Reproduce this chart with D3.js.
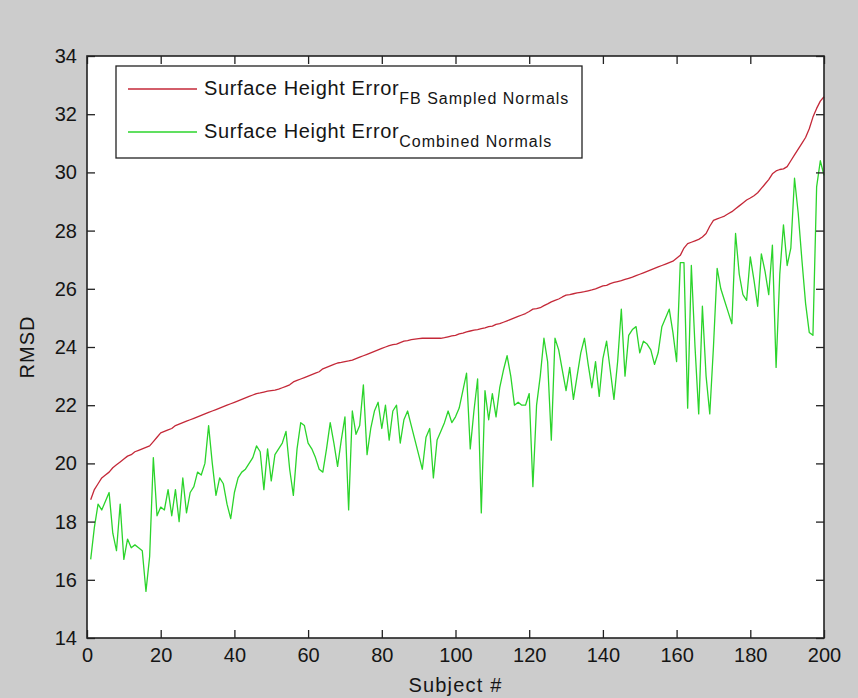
<!DOCTYPE html>
<html>
<head>
<meta charset="utf-8">
<script src="https://cdn.jsdelivr.net/npm/d3@7"></script>
<style>
  html, body { margin: 0; padding: 0; background: #cccccc; }
  svg { display: block; }
  text { font-family: "Liberation Sans", Arial, sans-serif; fill: #151515; }
</style>
</head>
<body>
<svg id="chart" width="858" height="698"></svg>
<script>
// RMSD per subject (subjects ordered by the FB-sampled-normals error)
const fbSampled = [
  18.75,19.10,19.30,19.50,19.60,19.70,19.85,19.95,20.05,20.15,
  20.25,20.30,20.40,20.45,20.50,20.55,20.60,20.75,20.90,21.05,
  21.10,21.15,21.20,21.30,21.35,21.40,21.45,21.50,21.55,21.60,
  21.65,21.70,21.75,21.80,21.85,21.90,21.95,22.00,22.05,22.10,
  22.15,22.20,22.25,22.30,22.35,22.40,22.42,22.45,22.48,22.50,
  22.52,22.55,22.60,22.65,22.70,22.80,22.85,22.90,22.95,23.00,
  23.05,23.10,23.15,23.25,23.30,23.35,23.40,23.45,23.47,23.50,
  23.52,23.55,23.60,23.65,23.70,23.75,23.80,23.85,23.90,23.95,
  24.00,24.05,24.08,24.10,24.15,24.20,24.22,24.25,24.27,24.29,
  24.30,24.30,24.30,24.30,24.30,24.30,24.32,24.35,24.38,24.40,
  24.45,24.48,24.52,24.55,24.58,24.60,24.63,24.66,24.70,24.72,
  24.78,24.80,24.85,24.90,24.95,25.00,25.05,25.10,25.15,25.22,
  25.30,25.32,25.35,25.42,25.48,25.55,25.60,25.65,25.72,25.78,
  25.80,25.83,25.86,25.88,25.90,25.93,25.96,26.00,26.05,26.10,
  26.12,26.18,26.22,26.25,26.28,26.32,26.36,26.40,26.45,26.50,
  26.55,26.60,26.65,26.70,26.75,26.80,26.85,26.90,26.95,27.05,
  27.15,27.40,27.55,27.60,27.65,27.70,27.78,27.90,28.15,28.35,
  28.40,28.45,28.50,28.58,28.65,28.75,28.85,28.95,29.05,29.12,
  29.20,29.30,29.45,29.60,29.75,29.95,30.05,30.10,30.12,30.20,
  30.40,30.60,30.80,31.00,31.20,31.50,31.90,32.20,32.45,32.60
];

const combined = [
  16.7,17.8,18.6,18.4,18.7,19.0,17.6,17.0,18.6,16.7,
  17.4,17.1,17.2,17.1,17.0,15.6,16.8,20.2,18.2,18.5,
  18.4,19.1,18.2,19.1,18.0,19.5,18.3,19.0,19.2,19.7,
  19.6,20.0,21.3,20.0,18.9,19.5,19.3,18.6,18.1,19.0,
  19.5,19.7,19.8,20.0,20.2,20.6,20.4,19.1,20.5,19.4,
  20.3,20.5,20.7,21.1,19.8,18.9,20.5,21.4,21.3,20.7,
  20.5,20.2,19.8,19.7,20.5,21.4,20.7,19.9,20.8,21.6,
  18.4,21.8,21.0,21.3,22.7,20.3,21.2,21.8,22.1,21.2,
  22.0,20.8,21.8,22.0,20.7,21.5,21.8,21.3,20.8,20.3,
  19.8,20.9,21.2,19.5,20.8,21.1,21.4,21.8,21.4,21.6,
  21.9,22.5,23.1,20.5,21.8,22.9,18.3,22.5,21.5,22.4,
  21.6,22.6,23.2,23.7,23.0,22.0,22.1,22.0,22.0,22.4,
  19.2,22.0,23.0,24.3,23.5,20.8,24.3,23.9,23.2,22.5,
  23.3,22.2,23.0,23.8,24.3,23.4,22.6,23.5,22.3,23.6,
  24.2,23.2,22.2,23.5,25.3,23.0,24.4,24.6,24.7,23.8,
  24.2,24.1,23.9,23.4,23.8,24.7,25.0,25.3,24.5,23.5,
  26.9,26.9,21.9,26.8,24.0,21.7,25.4,23.0,21.7,24.0,
  26.7,26.0,25.6,25.2,24.8,27.9,26.5,25.8,25.6,27.1,
  26.3,25.4,27.2,26.6,25.8,27.5,23.3,26.5,28.2,26.8,
  27.4,29.8,28.6,27.0,25.5,24.5,24.4,29.5,30.4,29.9
];

const subjects = fbSampled.map((_, i) => i + 1);
const xTickValues = [0, 20, 40, 60, 80, 100, 120, 140, 160, 180, 200];
const yTickValues = [14, 16, 18, 20, 22, 24, 26, 28, 30, 32, 34];

const seriesNames = ["FB Sampled Normals", "Combined Normals"];
const seriesColors = ["#c42838", "#2bd42b"];

const svg = d3.select("#chart");
const W = 858, H = 698;
const plot = { left: 87, right: 824, top: 56, bottom: 638 };

svg.append("rect").attr("width", W).attr("height", H).attr("fill", "#cccccc");

const x = d3.scaleLinear().domain([0, 200]).range([plot.left, plot.right]);
const y = d3.scaleLinear().domain([14, 34]).range([plot.bottom, plot.top]);

// plotting area
svg.append("rect")
  .attr("x", plot.left).attr("y", plot.top)
  .attr("width", plot.right - plot.left).attr("height", plot.bottom - plot.top)
  .attr("fill", "#ffffff");

// data lines
const line = d3.line().x((d, i) => x(subjects[i])).y(d => y(d));
[fbSampled, combined].forEach((vals, k) => {
  svg.append("path")
    .datum(vals)
    .attr("d", line)
    .attr("fill", "none")
    .attr("stroke", seriesColors[k])
    .attr("stroke-width", 1.3)
    .attr("stroke-linejoin", "round");
});

// axes with inward ticks on all four sides
const tickLen = 8;
const fontTick = 20;

const gB = svg.append("g").attr("transform", `translate(0,${plot.bottom})`)
  .call(d3.axisBottom(x).tickValues(xTickValues).tickSizeInner(-tickLen).tickSizeOuter(0).tickPadding(10).tickFormat(d3.format("d")));
const gT = svg.append("g").attr("transform", `translate(0,${plot.top})`)
  .call(d3.axisTop(x).tickValues(xTickValues).tickSizeInner(-tickLen).tickSizeOuter(0).tickFormat(""));
const gL = svg.append("g").attr("transform", `translate(${plot.left},0)`)
  .call(d3.axisLeft(y).tickValues(yTickValues).tickSizeInner(-tickLen).tickSizeOuter(0).tickPadding(10).tickFormat(d3.format("d")));
const gR = svg.append("g").attr("transform", `translate(${plot.right},0)`)
  .call(d3.axisRight(y).tickValues(yTickValues).tickSizeInner(-tickLen).tickSizeOuter(0).tickFormat(""));

[gB, gT, gL, gR].forEach(g => {
  g.select(".domain").remove();
  g.selectAll(".tick line").attr("stroke", "#222").attr("stroke-width", 1.3);
  g.selectAll(".tick text")
    .attr("font-family", "Liberation Sans, Arial, sans-serif")
    .attr("font-size", fontTick)
    .attr("fill", "#151515");
});
gB.selectAll(".tick text").attr("dy", "0.71em");

// axes box
svg.append("rect")
  .attr("x", plot.left).attr("y", plot.top)
  .attr("width", plot.right - plot.left).attr("height", plot.bottom - plot.top)
  .attr("fill", "none").attr("stroke", "#222").attr("stroke-width", 1.6);

// axis titles
svg.append("text")
  .attr("x", (plot.left + plot.right) / 2).attr("y", 692)
  .attr("text-anchor", "middle").attr("font-size", 20).attr("letter-spacing", 1.2)
  .text("Subject #");
svg.append("text")
  .attr("transform", `translate(34,${(plot.top + plot.bottom) / 2}) rotate(-90)`)
  .attr("text-anchor", "middle").attr("font-size", 20).attr("letter-spacing", 1)
  .text("RMSD");

// legend
const lg = svg.append("g");
lg.append("rect")
  .attr("x", 116).attr("y", 66).attr("width", 466).attr("height", 92)
  .attr("fill", "#ffffff").attr("stroke", "#222").attr("stroke-width", 1.3);
const rowY = [89, 132];
seriesNames.forEach((name, k) => {
  lg.append("line")
    .attr("x1", 128).attr("x2", 197)
    .attr("y1", rowY[k]).attr("y2", rowY[k])
    .attr("stroke", seriesColors[k]).attr("stroke-width", 1.5);
  const t = lg.append("text")
    .attr("x", 204).attr("y", rowY[k] + 6)
    .attr("font-size", 20).attr("letter-spacing", 0.65);
  t.append("tspan").text("Surface Height Error");
  t.append("tspan").attr("dy", 9).attr("font-size", 16).attr("letter-spacing", 1).text(name);
});
</script>
</body>
</html>
